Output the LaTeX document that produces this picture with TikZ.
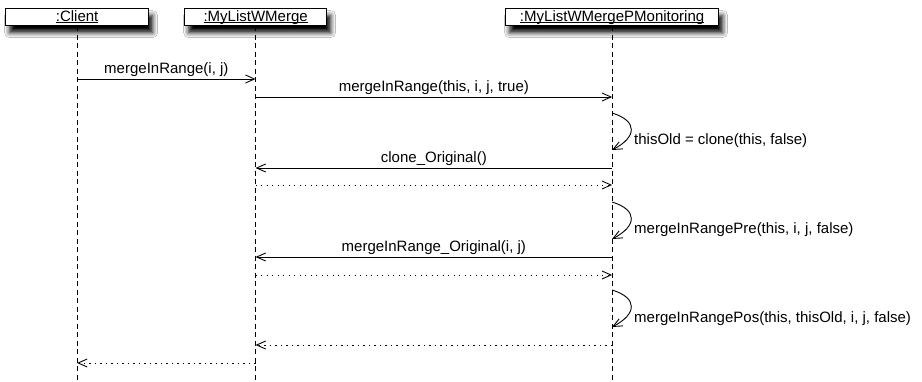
\documentclass[tikz,border=0pt]{standalone}
\usepackage{fontspec}
\setmainfont{Liberation Sans}
\usetikzlibrary{arrows.meta,shadows.blur}
% object name with a firm underline below the baseline
\newcommand{\objname}[1]{\setbox0\hbox{#1}\rlap{\rule[-2.2pt]{\wd0}{1pt}}\box0}
\begin{document}
\begin{tikzpicture}[x=1pt,y=-1pt,
  every node/.style={font=\fontsize{15}{18}\selectfont},
  obj/.style={draw=black, line width=1.2pt, fill=white, minimum width=#1,
    minimum height=17pt, text height=11.5pt, text depth=3.5pt,
    inner sep=0pt, anchor=north west,
    blur shadow={shadow xshift=4pt, shadow yshift=-7pt,
      shadow blur radius=5pt, shadow opacity=100}},
  lifeline/.style={draw=black, line width=1pt, dash pattern=on 5pt off 3.5pt},
  call/.style={draw=black, line width=0.9pt, -{Straight Barb[length=9pt,width=8pt]}},
  reply/.style={call, dash pattern=on 1.2pt off 4.3pt},
  msglabel/.style={above, inner sep=1.5pt},
  selflabel/.style={anchor=west, inner sep=0pt}]

\fill[white] (0,0) rectangle (922,381);
\useasboundingbox (0,0) rectangle (922,381);

% participants
\node[obj=143pt] (client) at (5,8) {\objname{:Client}};
\node[obj=142pt] (merge) at (184,8) {\objname{:MyListWMerge}};
\node[obj=213pt] (monitor) at (505,8) {\objname{:MyListWMergePMonitoring}};

% lifelines
\coordinate (clientEnd) at (client.south |- 0,381);
\coordinate (mergeEnd) at (merge.south |- 0,381);
\coordinate (monEnd) at (monitor.south |- 0,381);
\draw[lifeline] (client.south) -- (clientEnd);
\draw[lifeline] (merge.south) -- (mergeEnd);
\draw[lifeline] (monitor.south) -- (monEnd);

% messages
\draw[call] (client.south |- 0,79) -- node[msglabel] {mergeInRange(i, j)} (merge.south |- 0,79);
\draw[call] (merge.south |- 0,97) -- node[msglabel] {mergeInRange(this, i, j, true)} (monitor.south |- 0,97);

% self call 1
\draw[call] (monitor.south |- 0,113) .. controls (638,121) and (637,137) .. (monitor.south |- 0,150);
\node[selflabel] (s1) at (634,141) {thisOld = clone(this, false)};

\draw[call] (monitor.south |- 0,168) -- node[msglabel] {clone\_Original()} (merge.south |- 0,168);
\draw[reply] (merge.south |- 0,185) -- (monitor.south |- 0,185);

% self call 2
\draw[call] (monitor.south |- 0,202) .. controls (638,210) and (637,226) .. (monitor.south |- 0,239);
\node[selflabel] (s2) at (634,230) {mergeInRangePre(this, i, j, false)};

\draw[call] (monitor.south |- 0,257) -- node[msglabel] {mergeInRange\_Original(i, j)} (merge.south |- 0,257);
\draw[reply] (merge.south |- 0,275) -- (monitor.south |- 0,275);

% self call 3
\draw[call] (monitor.south |- 0,290) .. controls (638,298) and (637,314) .. (monitor.south |- 0,327);
\node[selflabel] (s3) at (634,319) {mergeInRangePos(this, thisOld, i, j, false)};

\draw[reply] (monitor.south |- 0,345) -- (merge.south |- 0,345);
\draw[reply] (merge.south |- 0,363) -- (client.south |- 0,363);

\end{tikzpicture}
\end{document}
